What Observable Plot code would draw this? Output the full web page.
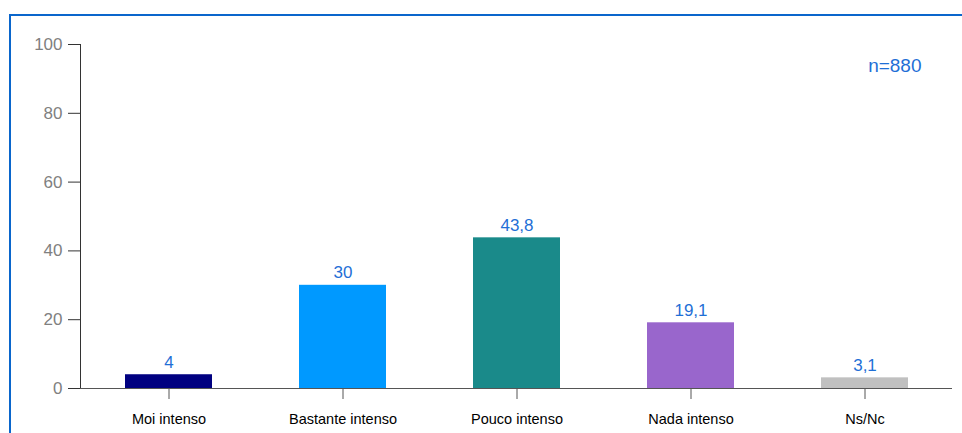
<!DOCTYPE html>
<html><head><meta charset="utf-8">
<script src="https://cdn.jsdelivr.net/npm/d3@7"></script>
<script src="https://cdn.jsdelivr.net/npm/@observablehq/plot@0.6"></script>
<style>
body{margin:0;background:#fff;font-family:Arial,"Liberation Sans",sans-serif;}
#wrap{position:relative;width:962px;height:433px;overflow:hidden;}
#border{position:absolute;left:9px;top:14px;right:-5px;bottom:-5px;border-top:2px solid #0a66cc;border-left:2px solid #0a66cc;pointer-events:none;}
</style></head>
<body><div id="wrap"><div id="border"></div></div>
<script>
const categories = ["Moi intenso","Bastante intenso","Pouco intenso","Nada intenso","Ns/Nc"];
const values = [4, 30, 43.8, 19.1, 3.1];
const colors = ["#000080","#0099ff","#1a8a8a","#9966cc","#c0c0c0"];
const yTicks = [0,20,40,60,80,100];
const nLabel = "n=880";

const data = categories.map((c,i)=>({cat:c, v:values[i], col:colors[i]}));
const fmt = v => String(v).replace(".", ",");

const chart = Plot.plot({
  width: 962, height: 433,
  marginLeft: 80, marginRight: 10, marginTop: 44, marginBottom: 45,
  style: {fontFamily: "Arial, 'Liberation Sans', sans-serif", background: "transparent"},
  x: {domain: categories, paddingInner: 0.5, paddingOuter: 0.25, label: null},
  y: {domain: [0,100], label: null},
  marks: [
    Plot.axisY({ticks: yTicks, tickSize: 12, tickPadding: 6, fontSize: 17, color: "#808080", stroke: "#333"}),
    Plot.axisX({tickSize: 11, tickPadding: 14, fontSize: 14.5, color: "#000", stroke: "#555"}),
    Plot.barY(data, {x: "cat", y: "v", fill: "col"}),
    Plot.frame({anchor: "left", stroke: "#333"}),
    Plot.ruleY([0], {stroke: "#555"}),
    Plot.text(data, {x: "cat", y: "v", text: d => fmt(d.v), dy: -7, fontSize: 17, fill: "#1f6fd6", lineAnchor: "bottom"}),
    Plot.text([nLabel], {frameAnchor: "top-right", dx: -31, dy: 14, fontSize: 19, fill: "#1f6fd6", textAnchor: "end"})
  ]
});
document.getElementById("wrap").appendChild(chart);
chart.style.position = "absolute"; chart.style.left = "0"; chart.style.top = "0";
</script></body></html>
